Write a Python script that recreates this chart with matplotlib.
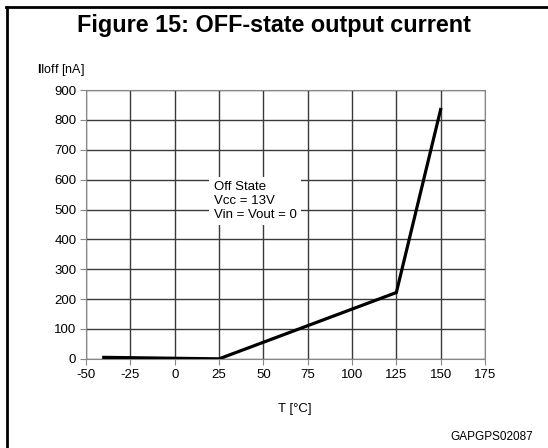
import matplotlib
matplotlib.use("Agg")
import matplotlib.pyplot as plt
from matplotlib.lines import Line2D

plt.rcParams["font.family"] = ["Liberation Sans", "DejaVu Sans"]
plt.rcParams["mathtext.fontset"] = "custom"
plt.rcParams["mathtext.bf"] = "Liberation Sans:bold"
plt.rcParams["axes.unicode_minus"] = False

# data
temp = [-40, 25, 125, 150]
ioff = [5, 0, 222, 835]
x_ticks = [-50, -25, 0, 25, 50, 75, 100, 125, 150, 175]
y_ticks = [0, 100, 200, 300, 400, 500, 600, 700, 800, 900]

fig = plt.figure(figsize=(5.48, 4.48), dpi=100)
ax = fig.add_axes([0.157, 0.199, 0.728, 0.600])

ax.plot(temp, ioff, color="black", linewidth=2.3, solid_joinstyle="miter", zorder=4)

ax.set_xlim(-50, 175)
ax.set_ylim(0, 900)
ax.set_xticks(x_ticks)
ax.set_yticks(y_ticks)
ax.grid(True, color="#3a3a3a", linewidth=1.0)
ax.set_axisbelow(True)
for s in ax.spines.values():
    s.set_color("#888888")
ax.tick_params(labelsize=9.5, length=4, color="#888888", pad=3)

ax.text(22, 595, "Off State\nVcc = 13V\nVin = Vout = 0", fontsize=9.5,
        va="top", ha="left", linespacing=1.2, zorder=3,
        bbox=dict(facecolor="white", edgecolor="none", pad=3))

fig.text(0.5, 0.943, "Figure 15: OFF-state output current", ha="center", va="center",
         fontsize=16.8, fontweight="bold")
fig.text(0.068, 0.843, r"$\mathbf{I}$Ioff [nA]", fontsize=9, ha="left", va="center")
fig.text(0.538, 0.087, "T [°C]", fontsize=9.5, ha="center", va="center")
fig.text(0.972, 0.025, "GAPGPS02087", fontsize=8.5, ha="right", va="center")

# frame around the figure: left and top borders
fig.add_artist(Line2D([0.013, 0.013], [0.0, 0.985], color="black", linewidth=2.0,
                      transform=fig.transFigure))
fig.add_artist(Line2D([0.011, 1.0], [0.985, 0.985], color="black", linewidth=2.0,
                      transform=fig.transFigure))

fig.savefig("out.png", dpi=100)
